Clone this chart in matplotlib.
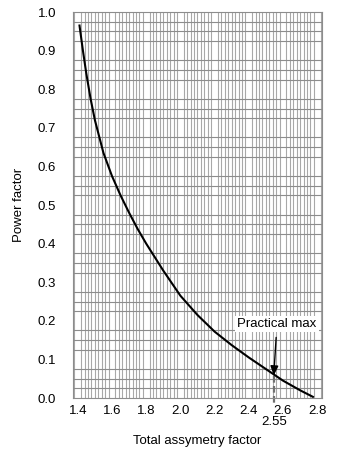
import matplotlib
matplotlib.use("Agg")
import matplotlib.pyplot as plt
import numpy as np

plt.rcParams['font.family'] = ['Liberation Sans', 'DejaVu Sans']

# -----------------------------
# data
# -----------------------------
asym_factor = [1.41, 1.43, 1.45, 1.475, 1.50, 1.55, 1.60, 1.65, 1.70, 1.75,
               1.80, 1.90, 2.00, 2.10, 2.20, 2.30, 2.40, 2.50, 2.60, 2.70, 2.775]
power_factor = [0.965, 0.90, 0.84, 0.775, 0.72, 0.635, 0.575, 0.525, 0.48, 0.438,
                0.40, 0.33, 0.265, 0.215, 0.172, 0.137, 0.105, 0.075, 0.045, 0.020, 0.003]

x_ticks = [1.4, 1.6, 1.8, 2.0, 2.2, 2.4, 2.6, 2.8]
y_ticks = [0.0, 0.1, 0.2, 0.3, 0.4, 0.5, 0.6, 0.7, 0.8, 0.9, 1.0]
practical_max = 2.55
practical_pf = 0.058

FS = 9.5

fig = plt.figure(figsize=(3.4, 4.53), dpi=100)
ax = fig.add_axes([0.2147, 0.1214, 0.7323, 0.8521])

ax.set_xlim(1.372, 2.828)
ax.set_ylim(0, 1.0)

# fine grid paper
ax.set_xticks(np.arange(1.38, 2.83, 0.02), minor=True)
ax.set_yticks(np.arange(0.0, 1.001, 0.025), minor=True)
ax.grid(which='minor', axis='x', color='#a8a8a8', lw=0.8)
ax.grid(which='minor', axis='y', color='#8c8c8c', lw=0.8)
ax.set_axisbelow(True)

ax.set_xticks(x_ticks)
ax.set_xticklabels([f"{v:.1f}" for v in x_ticks])
ax.set_yticks(y_ticks)
ax.set_yticklabels([f"{v:.1f}" for v in y_ticks])
ax.tick_params(which='both', length=0, labelsize=FS)
ax.tick_params(axis='y', pad=12)
ax.tick_params(axis='x', pad=5)

for sp in ax.spines.values():
    sp.set_color('#8c8c8c')
    sp.set_linewidth(0.8)

ax.plot(asym_factor, power_factor, color='black', lw=1.5, zorder=3)

# practical max marker
ax.plot([practical_max, practical_max], [practical_pf, -0.015], color='#707070',
        lw=1.6, ls=(0, (3, 1.5)), clip_on=False, zorder=2)
ax.text(practical_max, -0.063, "2.55", ha='center', va='center', fontsize=FS)

ax.annotate("Practical max", xy=(2.546, practical_pf), xytext=(2.565, 0.192),
            ha='center', va='center', fontsize=FS,
            bbox=dict(boxstyle='square,pad=0.15', fc='white', ec='none'),
            arrowprops=dict(arrowstyle='-|>,head_length=0.6,head_width=0.25',
                            color='black', lw=1.0, shrinkA=4, shrinkB=0),
            zorder=4)

ax.set_xlabel("Total assymetry factor", fontsize=FS, labelpad=13)
ax.set_ylabel("Power factor", fontsize=FS, labelpad=9)

fig.savefig("out.png", dpi=100)
